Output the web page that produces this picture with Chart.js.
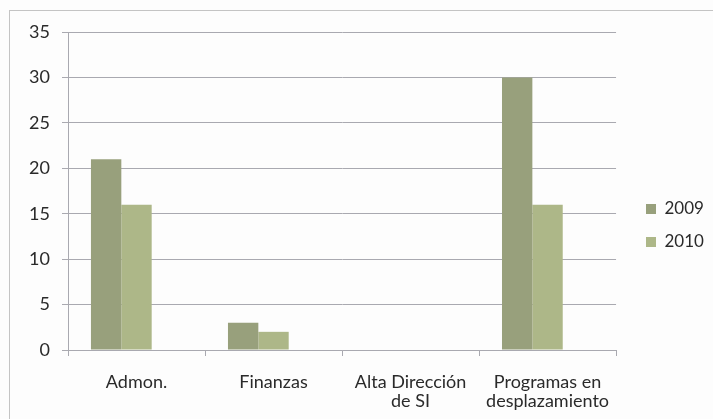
<!DOCTYPE html>
<html>
<head>
<meta charset="utf-8">
<script src="https://cdn.jsdelivr.net/npm/chart.js@4"></script>
<style>
  html, body { margin: 0; padding: 0; background: #fdfdfd; overflow: hidden; }
  #frame { position: absolute; left: 9px; top: 10px; width: 720px; height: 420px; border: 1px solid #c4c4c4; }
  #wrap { position: absolute; left: 0; top: 0; width: 713px; height: 419px; }
</style>
</head>
<body>
<div id="frame"></div>
<div id="wrap"><canvas id="areaChart"></canvas></div>
<script>
'use strict';

const categories = ["Admon.", "Finanzas", ["Alta Dirección", "de SI"], ["Programas en", "desplazamiento"]];
const values2009 = [21, 3, 0, 30];
const values2010 = [16, 2, 0, 16];
// the original sheet has a third, empty series that still takes a bar slot
const valuesEmpty = [null, null, null, null];
const seriesNames = ["2009", "2010", ""];

const fontFamily = "Lato, 'Open Sans', sans-serif";
const gridColor = "#a9a9b0";

// push the legend a little away from the plot area, as in the original
const legendShift = {
    id: "legendShift",
    afterLayout(chart) {
        const legend = chart.legend;
        if (legend) {
            const dx = 646 - 16 - legend.left;
            legend.left += dx;
            legend.right += dx;
        }
    },
};

const ctx = document.getElementById("areaChart").getContext("2d");

new Chart(ctx, {
    type: "bar",
    data: {
        labels: categories,
        datasets: [
            {
                label: seriesNames[0],
                data: values2009,
                backgroundColor: "#98a07c",
                barPercentage: 1,
                categoryPercentage: 0.665,
            },
            {
                label: seriesNames[1],
                data: values2010,
                backgroundColor: "#adb788",
                barPercentage: 1,
                categoryPercentage: 0.665,
            },
            {
                label: seriesNames[2],
                data: valuesEmpty,
                backgroundColor: "#c9d0a8",
                barPercentage: 1,
                categoryPercentage: 0.665,
            },
        ],
    },
    options: {
        responsive: true,
        maintainAspectRatio: false,
        animation: false,
        layout: {
            padding: { top: 32, right: 13, bottom: 0, left: 0 },
        },
        scales: {
            x: {
                grid: {
                    drawOnChartArea: false,
                    color: gridColor,
                    tickLength: 6,
                    offset: true,
                },
                border: { color: gridColor },
                ticks: {
                    color: "#2a2a2a",
                    padding: 16,
                    maxRotation: 0,
                    font: { family: fontFamily, size: 18, lineHeight: 1.08 },
                },
                afterFit: (scale) => { scale.height = 69; },
            },
            y: {
                min: 0,
                max: 35,
                ticks: {
                    stepSize: 5,
                    color: "#2a2a2a",
                    padding: 12,
                    font: { family: fontFamily, size: 18 },
                },
                grid: { color: gridColor, tickLength: 6 },
                border: { color: gridColor },
                afterFit: (scale) => { scale.width = 68; },
            },
        },
        plugins: {
            legend: {
                position: "right",
                labels: {
                    boxWidth: 10,
                    boxHeight: 10,
                    padding: 16,
                    color: "#2a2a2a",
                    font: { family: fontFamily, size: 17 },
                    filter: (item) => item.text !== "",
                },
            },
            tooltip: { enabled: false },
        },
    },
    plugins: [legendShift],
});
</script>
</body>
</html>
